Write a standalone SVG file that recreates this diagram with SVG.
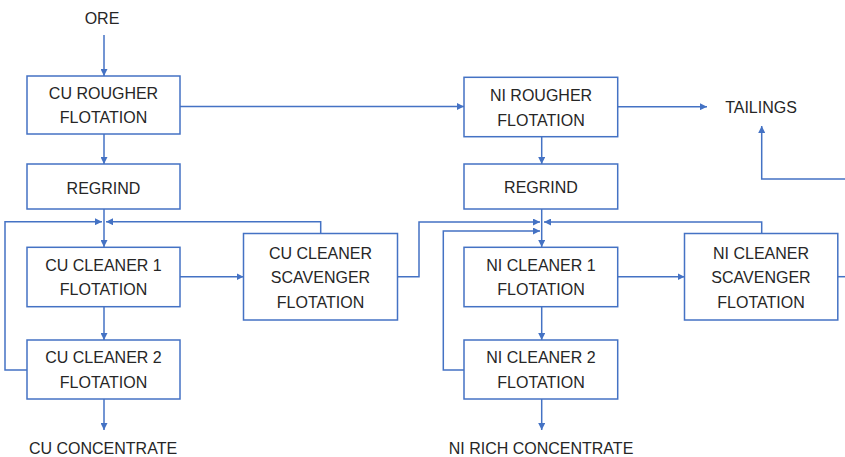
<svg xmlns="http://www.w3.org/2000/svg" width="845" height="457" viewBox="0 0 845 457">
<defs>
<marker id="arr" viewBox="0 0 10 10" markerWidth="7" markerHeight="7" markerUnits="userSpaceOnUse" refX="10" refY="5" orient="auto">
<path d="M0,0 L10,5 L0,10 z" fill="#4472C4"/>
</marker>
<style>
.box{fill:#fff;stroke:#4472C4;stroke-width:1.5}
.c{fill:none;stroke:#4472C4;stroke-width:1.5}
.a{marker-end:url(#arr)}
text{font-family:"Liberation Sans",Arial,sans-serif;font-size:16px;fill:#262626;text-anchor:middle}
</style>
</defs>
<rect width="845" height="457" fill="#fff"/>
<g id="connectors">
<path class="c a" d="M104,35 V76"/>
<path class="c a" d="M180,106.5 H464"/>
<path class="c a" d="M104,134 V164"/>
<path class="c a" d="M104,209 V247"/>
<path class="c a" d="M27,370 H5 V221.7 H102"/>
<path class="c a" d="M320.7,233.5 V221.7 H106"/>
<path class="c a" d="M180,276.7 H243.5"/>
<path class="c a" d="M104,307 V340"/>
<path class="c a" d="M104,399 V430"/>
<path class="c a" d="M397.5,276.7 H419 V222 H540"/>
<path class="c a" d="M618,106.7 H707"/>
<path class="c a" d="M541.7,137 V164"/>
<path class="c a" d="M541.7,209 V247"/>
<path class="c a" d="M761.7,233.5 V222 H544"/>
<path class="c a" d="M464,370 H443.3 V231 H540"/>
<path class="c a" d="M618,276.7 H684.5"/>
<path class="c a" d="M541.7,307 V340"/>
<path class="c a" d="M541.7,399 V430"/>
<path class="c" d="M838,276.7 H845"/>
<path class="c a" d="M845,179 H761.7 V126"/>
</g>
<g id="ore"><text x="102" y="24">ORE</text></g>
<g id="cu-rougher"><rect class="box" x="27" y="76" width="153" height="58"/><text x="103.5" y="99">CU ROUGHER</text><text x="103.5" y="123">FLOTATION</text></g>
<g id="cu-regrind"><rect class="box" x="27" y="164" width="153" height="45"/><text x="103.5" y="193.5">REGRIND</text></g>
<g id="cu-cleaner1"><rect class="box" x="27" y="247.3" width="153" height="59.4"/><text x="103.5" y="271">CU CLEANER 1</text><text x="103.5" y="295">FLOTATION</text></g>
<g id="cu-cleaner2"><rect class="box" x="27" y="340" width="153" height="59"/><text x="103.5" y="362.5">CU CLEANER 2</text><text x="103.5" y="387.5">FLOTATION</text></g>
<g id="cu-scavenger"><rect class="box" x="243.5" y="233.5" width="154" height="86.5"/><text x="320.5" y="258.5">CU CLEANER</text><text x="320.5" y="283">SCAVENGER</text><text x="320.5" y="307.5">FLOTATION</text></g>
<g id="cu-concentrate"><text x="103" y="454">CU CONCENTRATE</text></g>
<g id="ni-rougher"><rect class="box" x="464" y="77.3" width="153.7" height="59.4"/><text x="541" y="101">NI ROUGHER</text><text x="541" y="125.5">FLOTATION</text></g>
<g id="ni-regrind"><rect class="box" x="464" y="164" width="153.7" height="45"/><text x="541" y="192.5">REGRIND</text></g>
<g id="ni-cleaner1"><rect class="box" x="464" y="247.3" width="153.7" height="59.4"/><text x="541" y="271">NI CLEANER 1</text><text x="541" y="295">FLOTATION</text></g>
<g id="ni-cleaner2"><rect class="box" x="464" y="340" width="153.7" height="59"/><text x="541" y="362.5">NI CLEANER 2</text><text x="541" y="387.5">FLOTATION</text></g>
<g id="ni-scavenger"><rect class="box" x="684.5" y="233.5" width="153.3" height="86.5"/><text x="761" y="258.5">NI CLEANER</text><text x="761" y="283">SCAVENGER</text><text x="761" y="307.5">FLOTATION</text></g>
<g id="tailings"><text x="761" y="112.5">TAILINGS</text></g>
<g id="ni-concentrate"><text x="541" y="454">NI RICH CONCENTRATE</text></g>
</svg>
